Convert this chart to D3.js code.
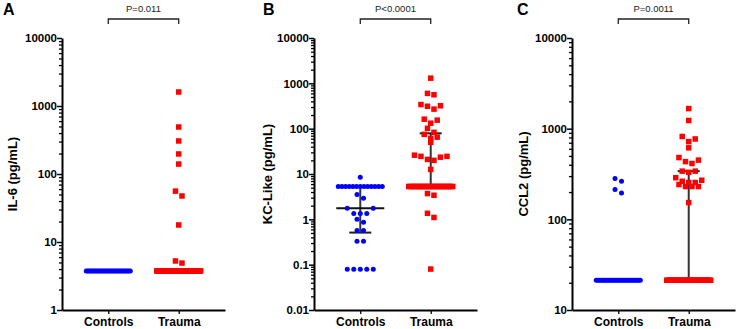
<!DOCTYPE html>
<html>
<head>
<script src="https://cdn.jsdelivr.net/npm/d3@7"></script>
<style>
    body { margin: 0; background: #fff; }
    text { font-family: Arial, "Liberation Sans", sans-serif; }
</style>
</head>
<body>
<div id="chart"></div>
<script>

    var width = 737;
    var height = 329;

    // ---- data ----
    var panelLetters = ["A", "B", "C"];
    var yTitles = ["IL-6 (pg/mL)", "KC-Like (pg/mL)", "CCL2 (pg/mL)"];
    var pLabels = ["P=0.011", "P<0.0001", "P=0.0011"];
    var categories = ["Controls", "Trauma"];

    var yTicksA = [1, 10, 100, 1000, 10000];
    var yTicksB = [0.01, 0.1, 1, 10, 100, 1000, 10000];
    var yTicksC = [10, 100, 1000, 10000];

    // value given to samples below detection, and how many per group
    var lodValues = [3.75, 5.3, 21.3];
    var lodCountsA = [32, 45];
    var lodCountsB = [13, 27];
    var lodCountsC = [28, 32];

    var controlsA = [];
    var traumaA = [1607, 491, 306, 197, 140, 56, 47.5, 17.8, 5.26, 4.9];

    var controlsB = [8.5, 3.55, 2.9, 1.75, 1.75, 1.35, 1.35, 1.35, 1.0, 0.86,
                     0.57, 0.57, 0.33, 0.33, 0.079, 0.079, 0.079, 0.079, 0.079];
    var traumaB = [1300, 600, 560, 340, 312, 270, 320, 162, 132, 154, 102, 83,
                   65, 75, 61, 50, 26, 24.5, 21, 20, 23.5, 24.5, 12.6, 3.4, 3.7,
                   1.36, 1.1, 0.08];

    var controlsC = [282, 263, 214, 195];
    var traumaC = [1665, 1230, 820, 770, 720, 615, 480, 450, 433, 413, 340, 330,
                   340, 288, 263, 255, 230, 230, 230, 242, 255, 270, 153];

    // median and interquartile range per group [Controls, Trauma]
    var mediansA = [3.75, 3.75], q1A = [3.75, 3.75], q3A = [3.75, 3.75];
    var mediansB = [1.75, 5.3],  q1B = [0.51, 5.3],  q3B = [5.3, 79];
    var mediansC = [21.3, 21.3], q1C = [21.3, 21.3], q3C = [21.3, 340];

    // ---- layout ----
    var axisLeftX = [62, 314, 572];
    var letterX = [3, 263, 517];
    var titleX = [12, 267, 523];
    var plotTop = 38, plotBottom = 310, axisLen = 163;

    var panels = [
        { ticks: yTicksA, lod: lodCountsA, groups: [controlsA, traumaA], med: mediansA, q1: q1A, q3: q3A },
        { ticks: yTicksB, lod: lodCountsB, groups: [controlsB, traumaB], med: mediansB, q1: q1B, q3: q3B },
        { ticks: yTicksC, lod: lodCountsC, groups: [controlsC, traumaC], med: mediansC, q1: q1C, q3: q3C }
    ];

    var svg = d3.select('#chart').append('svg')
        .attr('width', width)
        .attr('height', height);

    // spread points that sit at nearly the same height into a row, low values in the middle
    function scatterLayout(values, yScale, cx) {
        var binH = 6, spacing = 6.5, maxW = 44;
        var pts = values.map(function(v) { return { v: v, y: yScale(v) }; })
            .sort(function(a, b) { return a.y - b.y; });
        var bins = [], cur = null;
        pts.forEach(function(p) {
            if (!cur || p.y - cur.y0 > binH) { cur = { y0: p.y, pts: [] }; bins.push(cur); }
            cur.pts.push(p);
        });
        bins.forEach(function(b) {
            var n = b.pts.length;
            var step = n > 1 ? Math.min(spacing, maxW / (n - 1)) : 0;
            var slots = d3.range(n).sort(function(i, j) {
                return Math.abs(i - (n - 1) / 2) - Math.abs(j - (n - 1) / 2) || j - i;
            });
            b.pts.slice().sort(function(a, c) { return c.y - a.y; })
                .forEach(function(p, k) { p.x = cx + (slots[k] - (n - 1) / 2) * step; });
        });
        return pts;
    }

    panels.forEach(function(panel, pi) {
        var x0 = axisLeftX[pi];
        var ticks = panel.ticks;

        var yScale = d3.scaleLog()
            .domain([ticks[0], ticks[ticks.length - 1]])
            .range([plotBottom, plotTop]);

        var xScale = d3.scalePoint()
            .domain(categories)
            .range([x0, x0 + axisLen])
            .padding(0.657);

        var g = svg.append('g');

        // y axis: minor ticks then major ticks with labels
        var minor = yScale.ticks().filter(function(t) { return ticks.indexOf(t) < 0; });
        g.append('g')
            .attr('transform', 'translate(' + x0 + ',0)')
            .call(d3.axisLeft(yScale).tickValues(minor).tickSize(3).tickFormat(''))
            .call(function(a) { a.select('.domain').remove(); })
            .selectAll('line').attr('stroke-width', 1.3).attr('stroke', '#000');

        var yAxis = g.append('g')
            .attr('transform', 'translate(' + x0 + ',0)')
            .call(d3.axisLeft(yScale).tickValues(ticks).tickSize(5).tickSizeOuter(0)
                .tickFormat(function(d) { return String(d); }));
        yAxis.select('.domain').attr('stroke-width', 2).attr('stroke', '#000');
        yAxis.selectAll('line').attr('stroke-width', 1.5).attr('stroke', '#000');
        yAxis.selectAll('text')
            .attr('font-size', '11.5px').attr('font-weight', 'bold').attr('fill', '#000')
            .attr('x', -5);

        // x axis
        var xAxis = g.append('g')
            .attr('transform', 'translate(0,' + plotBottom + ')')
            .call(d3.axisBottom(xScale).tickSize(4).tickSizeOuter(0));
        xAxis.select('.domain').attr('stroke-width', 2).attr('stroke', '#000');
        xAxis.selectAll('line').attr('stroke-width', 1.3).attr('stroke', '#000');
        xAxis.selectAll('text')
            .attr('font-size', '12px').attr('font-weight', 'bold').attr('fill', '#000')
            .attr('y', 7);

        // y title
        g.append('text')
            .attr('transform', 'translate(' + titleX[pi] + ',' + ((plotTop + plotBottom) / 2) + ') rotate(-90)')
            .attr('text-anchor', 'middle')
            .attr('dy', '0.35em')
            .attr('font-size', '13px')
            .attr('font-weight', 'bold')
            .text(yTitles[pi]);

        // panel letter
        g.append('text')
            .attr('x', letterX[pi]).attr('y', 15)
            .attr('font-size', '16px').attr('font-weight', 'bold')
            .text(panelLetters[pi]);

        // significance bracket
        var xa = xScale(categories[0]), xb = xScale(categories[1]);
        g.append('path')
            .attr('d', 'M' + xa + ',24V19H' + xb + 'V24')
            .attr('fill', 'none').attr('stroke', '#222').attr('stroke-width', 1.3);
        g.append('text')
            .attr('x', (xa + xb) / 2).attr('y', 12)
            .attr('text-anchor', 'middle')
            .attr('font-size', '9.5px').attr('fill', '#222')
            .text(pLabels[pi]);

        categories.forEach(function(cat, ci) {
            var cx = xScale(cat);

            // median line and interquartile whiskers
            g.append('line')
                .attr('x1', cx).attr('x2', cx)
                .attr('y1', yScale(panel.q1[ci])).attr('y2', yScale(panel.q3[ci]))
                .attr('stroke', '#333').attr('stroke-width', 2);
            [panel.q1[ci], panel.q3[ci]].forEach(function(q) {
                g.append('line')
                    .attr('x1', cx - 11).attr('x2', cx + 11)
                    .attr('y1', yScale(q)).attr('y2', yScale(q))
                    .attr('stroke', '#222').attr('stroke-width', 2);
            });
            g.append('line')
                .attr('x1', cx - 24).attr('x2', cx + 24)
                .attr('y1', yScale(panel.med[ci])).attr('y2', yScale(panel.med[ci]))
                .attr('stroke', '#111').attr('stroke-width', 2);

            var values = panel.groups[ci].concat(d3.range(panel.lod[ci]).map(function() { return lodValues[pi]; }));
            var pts = scatterLayout(values, yScale, cx);

            if (ci === 0) {
                g.selectAll('circle.c' + pi)
                    .data(pts)
                    .enter()
                    .append('circle')
                    .attr('class', 'c' + pi)
                    .attr('fill', '#0000ff')
                    .attr('r', 2.5)
                    .attr('cx', function(d) { return d.x; })
                    .attr('cy', function(d) { return d.y; });
            } else {
                g.selectAll('rect.t' + pi)
                    .data(pts)
                    .enter()
                    .append('rect')
                    .attr('class', 't' + pi)
                    .attr('fill', '#ff0000')
                    .attr('width', 5.5).attr('height', 5.5)
                    .attr('x', function(d) { return d.x - 2.75; })
                    .attr('y', function(d) { return d.y - 2.75; });
            }
        });
    });

</script>
</body>
</html>
